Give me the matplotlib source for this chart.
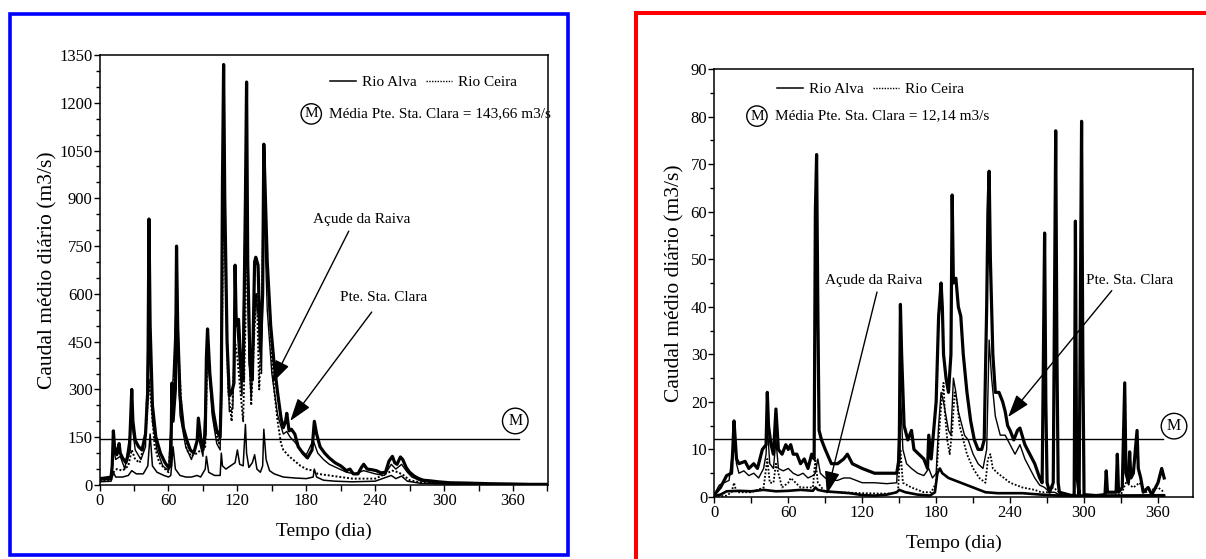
import matplotlib
matplotlib.use("Agg")
import matplotlib.pyplot as plt
from matplotlib.patches import Rectangle
from matplotlib.lines import Line2D
from matplotlib.ticker import MultipleLocator

plt.rcParams['font.family'] = ['Liberation Serif', 'DejaVu Serif']

# ---------------- data (day, m3/s) ----------------
# Left panel (wet year)
L_ptc = [(0,20),(5,22),(10,25),(11,60),(12,170),(13,120),(15,95),(17,130),(18,100),(20,85),
         (23,70),(26,110),(28,300),(29,200),(31,140),(34,120),(37,110),(40,160),(42,300),(43,835),
         (44,500),(46,250),(49,150),(53,100),(57,70),(60,55),(62,60),(63,320),(64,200),(66,300),
         (67,750),(68,500),(70,280),(73,180),(76,140),(79,110),(82,100),(85,140),(86,210),(88,150),
         (90,110),(92,160),(93,400),(94,490),(96,350),(99,230),(102,170),(105,150),(106,300),(107,950),
         (108,1320),(109,900),(111,450),(113,280),(115,290),(117,320),(118,690),(119,500),(121,520),(123,380),
         (125,330),(127,900),(128,1265),(129,700),(131,380),(133,330),(135,700),(136,715),(138,690),(140,420),
         (142,600),(143,1070),(144,950),(146,700),(149,500),(152,380),(155,290),(158,210),(160,180),(162,200),
         (163,225),(165,170),(167,175),(170,160),(173,120),(177,100),(181,85),(185,110),(187,200),(189,160),
         (192,120),(196,100),(200,85),(205,70),(210,60),(215,45),(218,50),(221,35),(225,35),(228,55),
         (230,65),(233,50),(237,48),(241,45),(245,38),(249,40),(252,75),(255,90),(257,70),(259,65),
         (262,88),(264,80),(267,55),(270,40),(274,28),(278,20),(282,15),(288,13),(295,10),(305,7),
         (320,6),(340,4),(360,3),(375,2),(390,2)]
L_ceira = [(0,15),(10,15),(12,40),(15,50),(20,45),(25,60),(28,110),(31,80),(35,70),(40,150),
           (43,330),(45,250),(48,120),(52,70),(57,50),(60,40),(63,200),(66,450),(67,620),(69,400),
           (72,200),(76,110),(80,90),(85,100),(88,110),(92,120),(94,440),(97,300),(100,180),(104,130),
           (106,250),(108,1000),(110,600),(112,300),(115,200),(118,450),(120,400),(123,280),(125,200),(127,500),
           (128,950),(130,500),(132,250),(135,500),(137,600),(139,300),(141,500),(143,950),(145,750),(148,550),
           (150,400),(152,300),(155,200),(158,130),(160,110),(165,90),(170,75),(175,60),(180,50),(186,45),
           (190,35),(200,30),(220,20),(240,20),(255,45),(260,40),(265,30),(270,15),(280,8),(300,5),
           (330,3),(360,2),(390,2)]
L_mid = [(0,15),(10,18),(12,120),(14,80),(18,90),(22,50),(28,200),(31,110),(36,80),(40,120),
         (43,600),(46,200),(50,110),(55,60),(60,45),(63,250),(67,600),(70,220),(75,120),(80,80),
         (86,150),(90,90),(94,420),(98,220),(102,130),(105,110),(108,1150),(110,600),(113,230),(116,240),
         (118,600),(121,420),(124,280),(128,1100),(130,400),(132,270),(136,600),(139,500),(141,350),(143,900),
         (146,550),(150,350),(155,220),(160,160),(163,168),(166,150),(170,135),(175,110),(180,95),(186,140),
         (190,100),(195,80),(200,65),(209,50),(215,40),(222,35),(230,45),(240,35),(248,30),(254,65),
         (258,50),(263,65),(268,40),(272,25),(280,12),(290,8),(300,5),(330,3),(360,2),(390,1)]
L_alva = [(0,10),(10,12),(12,40),(14,25),(20,25),(25,30),(28,45),(32,35),(38,35),(42,60),
          (44,160),(46,60),(50,40),(56,30),(60,25),(62,30),(64,120),(66,50),(70,30),(75,25),
          (80,25),(85,30),(88,25),(92,50),(93,90),(95,40),(100,30),(105,30),(106,100),(107,60),
          (110,50),(114,60),(118,70),(120,110),(122,65),(125,60),(127,190),(128,100),(130,55),(133,70),
          (135,95),(137,50),(140,40),(142,60),(143,175),(145,80),(148,45),(152,35),(160,25),(170,22),
          (180,20),(186,25),(187,50),(189,25),(195,15),(205,12),(220,10),(240,12),(254,30),(258,20),
          (263,28),(268,12),(280,5),(300,3),(360,2),(390,1)]
L_mean = 143.66

# Right panel (dry year)
R_ptc = [(0,0.5),(5,2),(10,4.5),(14,5),(15,10),(16,16),(17,12),(18,8),(20,7),(25,7.5),
         (28,6),(32,7),(35,6),(39,10),(42,11),(43,22),(44,15),(46,11),(48,9),(50,18.5),
         (52,10),(55,9),(58,11),(60,10),(62,11),(64,9),(67,9),(70,7),(73,8),(76,6),
         (79,9),(81,8),(82,60),(83,72),(84,40),(85,14),(87,12),(90,10),(95,7),(100,7),
         (105,8),(108,9),(112,7),(120,6),(130,5),(140,5),(148,5),(150,8),(151,40.5),(152,30),
         (154,15),(157,12),(160,14),(162,10),(166,9),(170,8),(173,6),(174,13),(176,8),(180,20),
         (182,38),(184,45),(185,40),(186,30),(188,25),(190,22),(192,30),(193,63.5),(194,45),(196,46),
         (198,40),(200,38),(202,30),(205,22),(208,16),(211,12),(214,10),(217,10),(219,12),(221,40),
         (222,60),(223,68.5),(224,50),(226,30),(228,22),(231,22),(234,20),(236,18),(238,15),(240,14),
         (243,12),(246,14),(248,14.5),(252,11),(256,9),(260,7),(264,4),(266,3),(267,30),(268,55.5),
         (269,20),(270,3),(272,1),(275,3),(276,40),(277,77),(278,30),(279,3),(280,1),(290,0.3),
         (292,0.5),(293,58),(294,5),(296,0.5),(297,40),(298,79),(299,30),(300,0.5),(310,0.3),(317,0.5),
         (318,5.5),(319,1),(326,1),(327,9),(328,1),(331,2),(333,24),(334,5),(336,3),(337,9.5),
         (338,4),(340,5),(343,14),(344,6),(346,4),(348,1),(352,2),(355,0.5),(360,3),(363,6),(365,4)]
R_mid = [(0,0.5),(4,2.5),(8,3),(12,3.5),(15,10),(16,14),(18,7),(20,5),(24,5.5),(28,4.5),
         (32,5),(36,4),(40,6),(42,9),(43,15),(45,7),(48,6),(50,12),(52,6),(56,5.5),
         (60,6),(64,5),(68,4.5),(72,5),(76,4),(80,4.5),(82,5),(84,8),(86,5),(90,4),
         (95,3.5),(100,3.5),(105,4),(110,4),(115,3.5),(120,3),(130,3),(140,2.8),(148,3),(150,15),
         (151,22),(153,10),(156,7),(160,6),(165,5),(170,4.5),(174,6),(177,4),(180,5),(182,15),
         (184,22),(186,20),(188,17),(190,14),(192,13),(194,25),(196,22),(198,18),(200,16),(203,13),
         (206,12),(210,9),(214,7),(218,6),(221,10),(223,33),(225,25),(228,17),(232,13),(236,13),
         (240,11),(244,9),(248,11),(252,8),(256,6),(260,4),(264,2.5),(268,2),(272,1),(276,1),
         (280,0.5),(290,0.3),(300,0.2),(320,0.3),(360,0.5),(365,0.5)]
R_ceira = [(0,0),(10,0.3),(14,1),(16,3),(18,1),(25,1),(30,1),(40,2),(43,8),(45,3),
           (48,3),(50,7),(55,2),(60,3),(62,4),(70,2),(80,2),(82,8),(84,3),(90,1),
           (100,1),(120,0.8),(140,0.7),(149,1),(151,10),(153,3),(160,2),(170,1),(176,1),(180,3),
           (182,12),(184,19),(186,24),(187,18),(189,12),(191,9),(193,14),(195,22),(197,20),(199,15),
           (202,12),(205,9),(210,6),(215,4),(220,3),(222,8),(224,9),(226,6),(230,5),(235,4),
           (240,3),(250,2),(260,1.5),(265,1),(270,1),(275,2),(280,1),(290,0.3),(320,0.3),(330,0.5),
           (334,3),(340,2),(345,3),(350,1),(360,2),(365,1)]
R_raiva = [(0,0.2),(5,0.5),(10,1.2),(20,1.3),(30,1.2),(40,1.5),(50,1.2),(60,1.3),(70,1.5),(80,1.3),
           (82,2),(84,1.5),(90,1.2),(100,1),(110,0.8),(120,0.4),(130,0.3),(140,0.5),(148,1),(150,1.5),
           (155,1),(165,0.5),(175,0.3),(179,1),(181,5),(183,6),(185,5),(190,4),(200,3),(210,2),
           (215,1.5),(220,1),(230,0.8),(250,0.8),(265,0.5),(280,0.3),(365,0.3)]
R_mean = 12.14

x_ticks = [0, 60, 120, 180, 240, 300, 360]
legend_labels = ["Rio Alva", "Rio Ceira"]
ylabel = "Caudal médio diário (m3/s)"
xlabel = "Tempo (dia)"

W, H = 1206, 559
fig = plt.figure(figsize=(W / 100, H / 100), dpi=100)
axL = fig.add_axes([99.6 / W, 1 - 485 / H, 448.4 / W, 430 / H])
axR = fig.add_axes([714.3 / W, 1 - 497 / H, 478.7 / W, 428 / H])

# outer coloured frames
fig.add_artist(Rectangle((9.75 / W, 1 - 555.25 / H), (568.25 - 9.75) / W, (555.25 - 13.75) / H,
                         transform=fig.transFigure, fill=False, ec='#0000ff', lw=2.6))
fig.add_artist(Rectangle((636 / W, -0.1), 0.6, 1.1 - 13 / H,
                         transform=fig.transFigure, fill=False, ec='#ff0000', lw=2.9, clip_on=False))


def xy(series):
    return [d for d, _ in series], [v for _, v in series]


def style(ax, xmax, ymax, ymaj, ymin_):
    ax.set_xlim(0, xmax)
    ax.set_ylim(0, ymax)
    ax.set_xticks(x_ticks)
    ax.xaxis.set_minor_locator(MultipleLocator(30))
    ax.yaxis.set_major_locator(MultipleLocator(ymaj))
    ax.yaxis.set_minor_locator(MultipleLocator(ymin_))
    ax.tick_params(which='both', direction='out', top=False, right=False, labelsize=12, width=1.0)
    ax.tick_params(axis='x', which='major', length=4.5, pad=1)
    ax.tick_params(axis='x', which='minor', length=4)
    ax.tick_params(axis='y', which='major', length=4.5, pad=0.5)
    ax.tick_params(axis='y', which='minor', length=3)
    for s in ax.spines.values():
        s.set_linewidth(1.1)
    ax.set_xlabel(xlabel, fontsize=14)
    ax.set_ylabel(ylabel, fontsize=15.5)


# ---- left panel ----
axL.plot(*xy(L_ceira), color='black', lw=1.4, ls=(0, (1, 1)))
axL.plot(*xy(L_alva), color='black', lw=1.1)
axL.plot(*xy(L_mid), color='black', lw=1.0)
axL.plot(*xy(L_ptc), color='black', lw=2.3)
axL.plot([0, 365], [L_mean, L_mean], color='black', lw=1.0)
style(axL, 390.5, 1350, 150, 50)
axL.yaxis.set_label_coords(-0.095, 0.5)
axL.xaxis.set_label_coords(0.5, -0.088)

# ---- right panel ----
axR.plot(*xy(R_ceira), color='black', lw=1.3, ls=(0, (1, 1)))
axR.plot(*xy(R_raiva), color='black', lw=1.9)
axR.plot(*xy(R_mid), color='black', lw=1.0)
axR.plot(*xy(R_ptc), color='black', lw=2.3)
axR.plot([0, 364], [R_mean, R_mean], color='black', lw=1.0)
style(axR, 388.4, 90, 10, 5)
axR.yaxis.set_label_coords(-0.063, 0.5)
axR.xaxis.set_label_coords(0.5, -0.088)

handles = [Line2D([], [], color='black', lw=1.1),
           Line2D([], [], color='black', lw=1.0, ls=(0, (1, 1)))]
for ax, anc in ((axL, (0.514, 0.937)), (axR, (0.131, 0.953))):
    ax.legend(handles, legend_labels, loc='center left', bbox_to_anchor=anc, ncol=2,
              frameon=False, fontsize=11, handlelength=1.7, handletextpad=0.4,
              columnspacing=0.6, borderpad=0, borderaxespad=0)

circ = dict(boxstyle='circle,pad=0.22', fc='white', ec='black', lw=1.0)
# legend "M" marker + text
axL.text(0.472, 0.863, 'M', transform=axL.transAxes, ha='center', va='center', fontsize=11, bbox=circ)
axL.text(0.512, 0.863, 'Média Pte. Sta. Clara = 143,66 m3/s', transform=axL.transAxes,
         ha='left', va='center', fontsize=11)
axR.text(0.089, 0.890, 'M', transform=axR.transAxes, ha='center', va='center', fontsize=11, bbox=circ)
axR.text(0.126, 0.890, 'Média Pte. Sta. Clara = 12,14 m3/s', transform=axR.transAxes,
         ha='left', va='center', fontsize=11)
# "M" at the end of the mean lines
axL.text(362, 201, 'M', ha='center', va='center', fontsize=11.5, bbox=dict(circ, boxstyle='circle,pad=0.3'))
axR.text(373, 14.9, 'M', ha='center', va='center', fontsize=11.5, bbox=dict(circ, boxstyle='circle,pad=0.3'))

arrow = dict(arrowstyle='-|>,head_length=1.0,head_width=0.33', color='black', lw=1.0,
             mutation_scale=14, shrinkA=0, shrinkB=0)
# left annotations
axL.text(228.6, 835, 'Açude da Raiva', ha='center', va='center', fontsize=11)
axL.annotate('', xy=(150.2, 320), xytext=(217, 797), arrowprops=arrow)
axL.text(247, 590, 'Pte. Sta. Clara', ha='center', va='center', fontsize=11)
axL.annotate('', xy=(166, 201), xytext=(237, 543), arrowprops=arrow)
# right annotations
axR.text(129.6, 45.6, 'Açude da Raiva', ha='center', va='center', fontsize=11)
axR.annotate('', xy=(91.3, 0.6), xytext=(132, 43.1), arrowprops=arrow)
axR.text(336.7, 45.6, 'Pte. Sta. Clara', ha='center', va='center', fontsize=11)
axR.annotate('', xy=(238.3, 16.8), xytext=(322.5, 43.4), arrowprops=arrow)

fig.savefig('out.png', dpi=100)
